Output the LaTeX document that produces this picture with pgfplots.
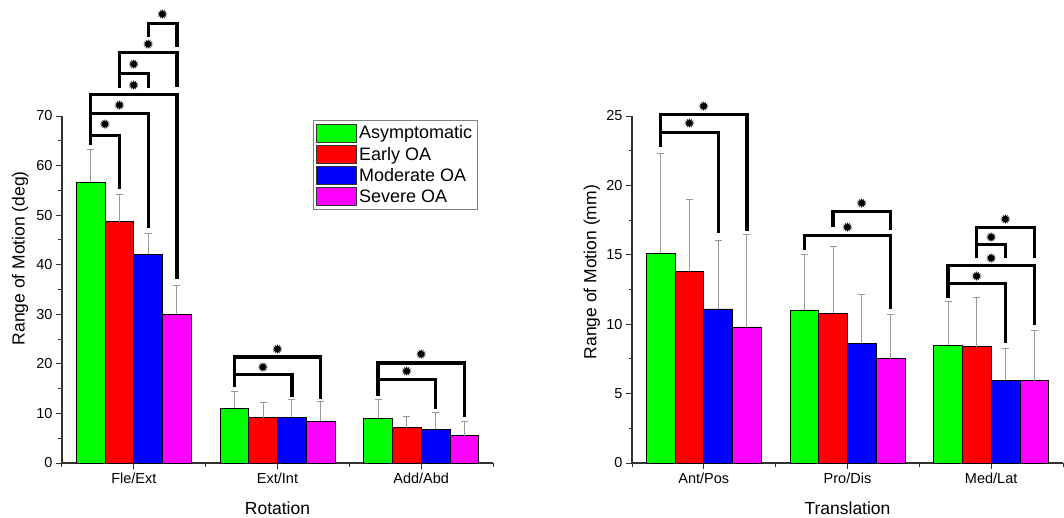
\documentclass[border=0pt]{standalone}
\usepackage{pgfplots}
\pgfplotsset{compat=1.18}
\usepackage{pgfplotstable}
\usepackage{fontspec}
\setmainfont{Liberation Sans}
\newfontfamily\symfont{DejaVu Sans}

\definecolor{cgreen}{RGB}{0,255,0}
\definecolor{cred}{RGB}{255,0,0}
\definecolor{cblue}{RGB}{0,0,255}
\definecolor{cmag}{RGB}{255,0,255}

% mean and upper error (SD) per group
\pgfplotstableread{
x g ge r re b be m me
0 56.6 6.7 48.7 5.5 42.1 4.1 30.0 5.9
1 11.0 3.4 9.1 3.2 9.2 3.6 8.4 4.0
2 9.0 3.8 7.1 2.2 6.8 3.3 5.5 2.9
}\rotdata

\pgfplotstableread{
x g ge r re b be m me
0 15.1 7.2 13.8 5.2 11.1 4.95 9.8 6.65
1 11.0 4.0 10.8 4.8 8.64 3.53 7.51 3.19
2 8.47 3.13 8.37 3.53 5.95 2.3 5.93 3.59
}\transdata

% significance bracket: x1 x2 ytop yleft yright ystar
\newcommand{\sig}[6]{%
  \draw[line width=3.3pt, line join=miter] (axis cs:#1,#4) -- (axis cs:#1,#3) -- (axis cs:#2,#3) -- (axis cs:#2,#5);
  \node[inner sep=0pt, font=\symfont\fontsize{13.5}{13.5}\selectfont] at (axis cs:{(#1+#2)/2},#6) {✹};
}

\pgfplotsset{
  rom/.style={
    scale only axis, width=431pt, height=347pt,
    axis lines=left, axis line style={-, line width=1.1pt, black!80},
    ybar=0pt, bar width=0.2,
    xmin=-0.5, xmax=2.5, ymin=0,
    xtick={0,1,2}, minor xtick={-0.5,0.5,1.5,2.5},
    minor y tick num=1,
    tick align=outside, tick style={line width=1pt, black!80},
    major tick length=6pt, minor tick length=3.5pt,
    tick label style={font=\fontsize{14.5}{16}\selectfont},
    /pgf/number format/assume math mode=true,
    label style={font=\fontsize{17.5}{20}\selectfont},
    clip=false,
    every axis plot/.append style={draw=black, line width=0.8pt,
      error bars/y dir=plus, error bars/y explicit,
      error bars/error bar style={black!40, line width=1pt},
      error bars/error mark options={rotate=90, mark size=3.5pt, black!40, line width=1pt}},
  },
  box/.style={/pgfplots/legend image code/.code={\draw[##1, draw=black!80, line width=0.8pt] (0pt,-9pt) rectangle (40pt,9pt);}},
}

\begin{document}
\begin{tikzpicture}
\useasboundingbox (-62pt,-54pt) rectangle (1002pt,463pt);
\begin{axis}[rom,
  ymax=70, ytick={0,10,...,70},
  xticklabels={Fle/Ext,Ext/Int,Add/Abd},
  xlabel={Rotation}, ylabel={Range of Motion (deg)},
  ylabel style={at={(axis description cs:-0.07,0.59)}},
  xlabel style={at={(axis description cs:0.5,0)}, anchor=base, yshift=-51pt},
  legend style={at={(axis description cs:0.582,0.988)}, anchor=north west,
    draw=black!50, line width=0.8pt, font=\fontsize{18}{20}\selectfont,
    row sep=2.5pt, inner sep=3pt, cells={anchor=west}, fill=white},
]
\addplot[fill=cgreen, /pgfplots/box] table[x=x, y=g, y error plus=ge] {\rotdata};
\addplot[fill=cred, /pgfplots/box] table[x=x, y=r, y error plus=re] {\rotdata};
\addplot[fill=cblue, /pgfplots/box] table[x=x, y=b, y error plus=be] {\rotdata};
\addplot[fill=cmag, /pgfplots/box] table[x=x, y=m, y error plus=me] {\rotdata};
\legend{Asymptomatic, Early OA, Moderate OA, Severe OA}
% Fle/Ext
\sig{-0.3}{-0.1}{66.0}{64.1}{55.3}{68.2}
\sig{-0.3}{0.1}{70.5}{66.0}{47.4}{72.2}
\sig{-0.3}{0.3}{74.4}{70.5}{37.1}{76.1}
\sig{-0.1}{0.1}{78.6}{75.6}{75.6}{80.3}
\sig{-0.1}{0.3}{82.8}{75.6}{75.8}{84.5}
\sig{0.1}{0.3}{88.7}{86.0}{84.0}{90.5}
% Ext/Int
\sig{0.7}{1.1}{17.8}{15.4}{13.4}{19.3}
\sig{0.7}{1.3}{21.4}{17.8}{12.9}{22.9}
% Add/Abd
\sig{1.7}{2.1}{16.9}{13.6}{10.8}{18.4}
\sig{1.7}{2.3}{20.2}{16.9}{9.3}{21.8}
\end{axis}

\begin{axis}[rom, xshift=570pt,
  ymax=25, ytick={0,5,...,25},
  xticklabels={Ant/Pos,Pro/Dis,Med/Lat},
  xlabel={Translation}, ylabel={Range of Motion (mm)},
  ylabel style={at={(axis description cs:-0.066,0.55)}},
  xlabel style={at={(axis description cs:0.5,0)}, anchor=base, yshift=-51pt},
]
\addplot[fill=cgreen] table[x=x, y=g, y error plus=ge] {\transdata};
\addplot[fill=cred] table[x=x, y=r, y error plus=re] {\transdata};
\addplot[fill=cblue] table[x=x, y=b, y error plus=be] {\transdata};
\addplot[fill=cmag] table[x=x, y=m, y error plus=me] {\transdata};
% Ant/Pos
\sig{-0.3}{0.1}{23.8}{22.75}{16.56}{24.45}
\sig{-0.3}{0.3}{25.13}{23.8}{16.72}{25.7}
% Pro/Dis
\sig{0.7}{1.3}{16.41}{15.36}{11.09}{16.96}
\sig{0.9}{1.3}{18.11}{16.99}{16.8}{18.72}
% Med/Lat
\sig{1.7}{2.1}{12.91}{11.88}{8.64}{13.43}
\sig{1.7}{2.3}{14.23}{12.91}{9.96}{14.76}
\sig{1.9}{2.1}{15.72}{14.76}{14.76}{16.22}
\sig{1.9}{2.3}{16.99}{14.76}{14.76}{17.52}
\end{axis}
\end{tikzpicture}
\end{document}
